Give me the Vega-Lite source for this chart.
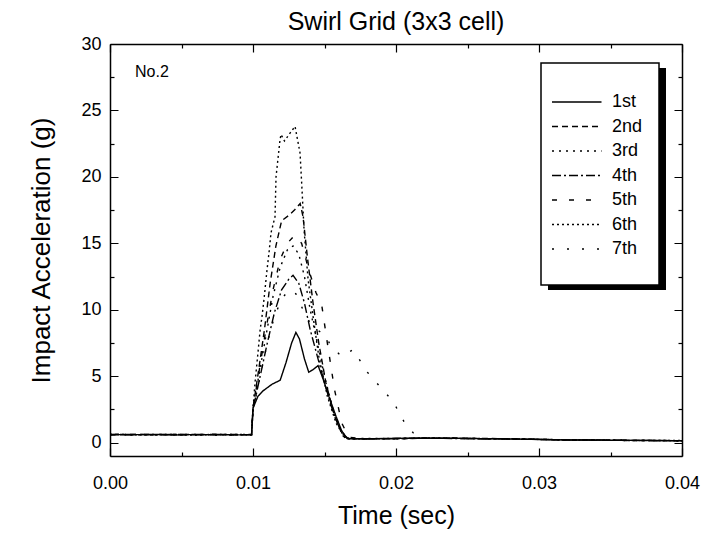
{
  "$schema": "https://vega.github.io/schema/vega-lite/v6.json",
  "width": 572,
  "height": 412,
  "autosize": "none",
  "padding": {"left": 110, "top": 44, "right": 21, "bottom": 81},
  "background": "white",
  "title": {"text": "Swirl Grid (3x3 cell)", "font": "Liberation Sans", "fontSize": 25, "fontWeight": "normal", "color": "black", "offset": 0},
  "config": {
    "view": {"stroke": null},
    "axis": {"labelFont": "Liberation Sans", "titleFont": "Liberation Sans", "labelColor": "black", "titleColor": "black", "domainColor": "black", "tickColor": "black", "domainWidth": 1.5, "tickWidth": 1.2, "grid": false, "titleFontWeight": "normal", "labelFlush": false}
  },
  "datasets": {
    "curves": [
      {"s":"1st","t":0,"a":0.62},{"s":"1st","t":0.0015,"a":0.6},{"s":"1st","t":0.003,"a":0.63},{"s":"1st","t":0.0045,"a":0.58},{"s":"1st","t":0.006,"a":0.62},{"s":"1st","t":0.0075,"a":0.6},{"s":"1st","t":0.009,"a":0.59},{"s":"1st","t":0.0099,"a":0.62},
      {"s":"1st","t":0.01,"a":2.6},{"s":"1st","t":0.01035,"a":3.5},{"s":"1st","t":0.0107,"a":3.9},{"s":"1st","t":0.01133,"a":4.4},{"s":"1st","t":0.0119,"a":4.7},{"s":"1st","t":0.0123,"a":6.0},{"s":"1st","t":0.0127,"a":7.5},{"s":"1st","t":0.013,"a":8.3},{"s":"1st","t":0.01325,"a":7.8},{"s":"1st","t":0.0136,"a":6.3},{"s":"1st","t":0.0139,"a":5.3},{"s":"1st","t":0.0142,"a":5.5},{"s":"1st","t":0.01455,"a":5.8},{"s":"1st","t":0.0149,"a":4.8},{"s":"1st","t":0.0153,"a":3.5},{"s":"1st","t":0.0158,"a":2.0},{"s":"1st","t":0.0162,"a":0.9},{"s":"1st","t":0.0166,"a":0.3},
      {"s":"1st","t":0.017,"a":0.3},{"s":"1st","t":0.018,"a":0.3},{"s":"1st","t":0.02,"a":0.32},{"s":"1st","t":0.022,"a":0.35},{"s":"1st","t":0.024,"a":0.33},{"s":"1st","t":0.026,"a":0.3},{"s":"1st","t":0.028,"a":0.28},{"s":"1st","t":0.03,"a":0.25},{"s":"1st","t":0.032,"a":0.2},{"s":"1st","t":0.034,"a":0.2},{"s":"1st","t":0.036,"a":0.18},{"s":"1st","t":0.038,"a":0.17},{"s":"1st","t":0.04,"a":0.15},

      {"s":"2nd","t":0,"a":0.6},{"s":"2nd","t":0.0015,"a":0.63},{"s":"2nd","t":0.003,"a":0.6},{"s":"2nd","t":0.0045,"a":0.62},{"s":"2nd","t":0.006,"a":0.59},{"s":"2nd","t":0.0075,"a":0.63},{"s":"2nd","t":0.009,"a":0.61},{"s":"2nd","t":0.0099,"a":0.6},
      {"s":"2nd","t":0.01,"a":2.6},{"s":"2nd","t":0.0104,"a":5.5},{"s":"2nd","t":0.0108,"a":8.5},{"s":"2nd","t":0.0112,"a":12},{"s":"2nd","t":0.0116,"a":14.8},{"s":"2nd","t":0.012,"a":16.7},{"s":"2nd","t":0.0125,"a":17.1},{"s":"2nd","t":0.0129,"a":17.5},{"s":"2nd","t":0.0133,"a":18.0},{"s":"2nd","t":0.0135,"a":17},{"s":"2nd","t":0.0138,"a":14},{"s":"2nd","t":0.0142,"a":10.5},{"s":"2nd","t":0.0146,"a":7.5},{"s":"2nd","t":0.0151,"a":4.5},{"s":"2nd","t":0.0157,"a":2},{"s":"2nd","t":0.0163,"a":0.5},{"s":"2nd","t":0.0167,"a":0.3},
      {"s":"2nd","t":0.018,"a":0.28},{"s":"2nd","t":0.02,"a":0.3},{"s":"2nd","t":0.022,"a":0.33},{"s":"2nd","t":0.024,"a":0.35},{"s":"2nd","t":0.026,"a":0.32},{"s":"2nd","t":0.028,"a":0.3},{"s":"2nd","t":0.03,"a":0.24},{"s":"2nd","t":0.032,"a":0.22},{"s":"2nd","t":0.034,"a":0.19},{"s":"2nd","t":0.036,"a":0.17},{"s":"2nd","t":0.038,"a":0.16},{"s":"2nd","t":0.04,"a":0.15},

      {"s":"3rd","t":0,"a":0.63},{"s":"3rd","t":0.0015,"a":0.59},{"s":"3rd","t":0.003,"a":0.62},{"s":"3rd","t":0.0045,"a":0.6},{"s":"3rd","t":0.006,"a":0.63},{"s":"3rd","t":0.0075,"a":0.58},{"s":"3rd","t":0.009,"a":0.62},{"s":"3rd","t":0.0099,"a":0.61},
      {"s":"3rd","t":0.01,"a":2.5},{"s":"3rd","t":0.0104,"a":5},{"s":"3rd","t":0.0109,"a":8},{"s":"3rd","t":0.0114,"a":11},{"s":"3rd","t":0.0119,"a":13.2},{"s":"3rd","t":0.0124,"a":14.5},{"s":"3rd","t":0.0128,"a":14.8},{"s":"3rd","t":0.0132,"a":14.2},{"s":"3rd","t":0.0136,"a":12.5},{"s":"3rd","t":0.014,"a":10},{"s":"3rd","t":0.0145,"a":7.5},{"s":"3rd","t":0.015,"a":5},{"s":"3rd","t":0.0156,"a":2.5},{"s":"3rd","t":0.0162,"a":0.8},{"s":"3rd","t":0.0167,"a":0.3},
      {"s":"3rd","t":0.018,"a":0.32},{"s":"3rd","t":0.02,"a":0.3},{"s":"3rd","t":0.022,"a":0.34},{"s":"3rd","t":0.024,"a":0.33},{"s":"3rd","t":0.026,"a":0.31},{"s":"3rd","t":0.028,"a":0.27},{"s":"3rd","t":0.03,"a":0.26},{"s":"3rd","t":0.032,"a":0.21},{"s":"3rd","t":0.034,"a":0.2},{"s":"3rd","t":0.036,"a":0.18},{"s":"3rd","t":0.038,"a":0.16},{"s":"3rd","t":0.04,"a":0.14},

      {"s":"4th","t":0,"a":0.61},{"s":"4th","t":0.0015,"a":0.62},{"s":"4th","t":0.003,"a":0.59},{"s":"4th","t":0.0045,"a":0.63},{"s":"4th","t":0.006,"a":0.6},{"s":"4th","t":0.0075,"a":0.62},{"s":"4th","t":0.009,"a":0.6},{"s":"4th","t":0.0099,"a":0.61},
      {"s":"4th","t":0.01,"a":2.5},{"s":"4th","t":0.0105,"a":5},{"s":"4th","t":0.011,"a":7.5},{"s":"4th","t":0.0115,"a":9.8},{"s":"4th","t":0.012,"a":11.5},{"s":"4th","t":0.0125,"a":12.3},{"s":"4th","t":0.0128,"a":12.6},{"s":"4th","t":0.0132,"a":12},{"s":"4th","t":0.0136,"a":10.5},{"s":"4th","t":0.014,"a":8.5},{"s":"4th","t":0.0145,"a":6.5},{"s":"4th","t":0.015,"a":4.5},{"s":"4th","t":0.0156,"a":2.3},{"s":"4th","t":0.0162,"a":0.7},{"s":"4th","t":0.0167,"a":0.3},
      {"s":"4th","t":0.018,"a":0.3},{"s":"4th","t":0.02,"a":0.33},{"s":"4th","t":0.022,"a":0.35},{"s":"4th","t":0.024,"a":0.32},{"s":"4th","t":0.026,"a":0.3},{"s":"4th","t":0.028,"a":0.29},{"s":"4th","t":0.03,"a":0.25},{"s":"4th","t":0.032,"a":0.2},{"s":"4th","t":0.034,"a":0.21},{"s":"4th","t":0.036,"a":0.18},{"s":"4th","t":0.038,"a":0.17},{"s":"4th","t":0.04,"a":0.15},

      {"s":"5th","t":0,"a":0.6},{"s":"5th","t":0.0015,"a":0.61},{"s":"5th","t":0.003,"a":0.63},{"s":"5th","t":0.0045,"a":0.59},{"s":"5th","t":0.006,"a":0.61},{"s":"5th","t":0.0075,"a":0.62},{"s":"5th","t":0.009,"a":0.6},{"s":"5th","t":0.0099,"a":0.6},
      {"s":"5th","t":0.01,"a":2.6},{"s":"5th","t":0.0104,"a":5.2},{"s":"5th","t":0.0109,"a":8.5},{"s":"5th","t":0.0114,"a":11.5},{"s":"5th","t":0.0119,"a":13.8},{"s":"5th","t":0.0124,"a":15},{"s":"5th","t":0.0129,"a":15.6},{"s":"5th","t":0.0134,"a":15},{"s":"5th","t":0.0139,"a":13},{"s":"5th","t":0.0144,"a":11.3},{"s":"5th","t":0.0148,"a":10.4},{"s":"5th","t":0.0152,"a":7.5},{"s":"5th","t":0.0157,"a":4},{"s":"5th","t":0.0162,"a":1.5},{"s":"5th","t":0.0167,"a":0.4},
      {"s":"5th","t":0.018,"a":0.3},{"s":"5th","t":0.02,"a":0.31},{"s":"5th","t":0.022,"a":0.34},{"s":"5th","t":0.024,"a":0.34},{"s":"5th","t":0.026,"a":0.3},{"s":"5th","t":0.028,"a":0.28},{"s":"5th","t":0.03,"a":0.24},{"s":"5th","t":0.032,"a":0.2},{"s":"5th","t":0.034,"a":0.19},{"s":"5th","t":0.036,"a":0.18},{"s":"5th","t":0.038,"a":0.16},{"s":"5th","t":0.04,"a":0.15},

      {"s":"6th","t":0,"a":0.62},{"s":"6th","t":0.0015,"a":0.6},{"s":"6th","t":0.003,"a":0.61},{"s":"6th","t":0.0045,"a":0.62},{"s":"6th","t":0.006,"a":0.58},{"s":"6th","t":0.0075,"a":0.61},{"s":"6th","t":0.009,"a":0.62},{"s":"6th","t":0.0099,"a":0.6},
      {"s":"6th","t":0.01,"a":2.5},{"s":"6th","t":0.01014,"a":4.5},{"s":"6th","t":0.01035,"a":6.8},{"s":"6th","t":0.0105,"a":8.5},{"s":"6th","t":0.01063,"a":9.5},{"s":"6th","t":0.01077,"a":10.8},{"s":"6th","t":0.01098,"a":13},{"s":"6th","t":0.01112,"a":14.3},{"s":"6th","t":0.01126,"a":15.8},{"s":"6th","t":0.01154,"a":17},{"s":"6th","t":0.01161,"a":20},{"s":"6th","t":0.01189,"a":22.8},{"s":"6th","t":0.01196,"a":23.2},{"s":"6th","t":0.0122,"a":22.7},{"s":"6th","t":0.01266,"a":23.4},{"s":"6th","t":0.01294,"a":23.8},{"s":"6th","t":0.01308,"a":23},{"s":"6th","t":0.01329,"a":21.8},{"s":"6th","t":0.01343,"a":19},{"s":"6th","t":0.01357,"a":16},{"s":"6th","t":0.01385,"a":12.3},{"s":"6th","t":0.0142,"a":9.5},{"s":"6th","t":0.0146,"a":6.5},{"s":"6th","t":0.0152,"a":3.5},{"s":"6th","t":0.0158,"a":1.5},{"s":"6th","t":0.0164,"a":0.4},{"s":"6th","t":0.0168,"a":0.3},
      {"s":"6th","t":0.018,"a":0.29},{"s":"6th","t":0.02,"a":0.3},{"s":"6th","t":0.022,"a":0.36},{"s":"6th","t":0.024,"a":0.33},{"s":"6th","t":0.026,"a":0.31},{"s":"6th","t":0.028,"a":0.28},{"s":"6th","t":0.03,"a":0.25},{"s":"6th","t":0.032,"a":0.21},{"s":"6th","t":0.034,"a":0.2},{"s":"6th","t":0.036,"a":0.17},{"s":"6th","t":0.038,"a":0.17},{"s":"6th","t":0.04,"a":0.16},

      {"s":"7th","t":0,"a":0.61},{"s":"7th","t":0.0015,"a":0.62},{"s":"7th","t":0.003,"a":0.6},{"s":"7th","t":0.0045,"a":0.61},{"s":"7th","t":0.006,"a":0.62},{"s":"7th","t":0.0075,"a":0.59},{"s":"7th","t":0.009,"a":0.61},{"s":"7th","t":0.0099,"a":0.6},
      {"s":"7th","t":0.01,"a":2.4},{"s":"7th","t":0.0105,"a":5},{"s":"7th","t":0.011,"a":7.5},{"s":"7th","t":0.0115,"a":9.5},{"s":"7th","t":0.012,"a":10.8},{"s":"7th","t":0.0125,"a":11.5},{"s":"7th","t":0.013,"a":11.2},{"s":"7th","t":0.0135,"a":10},{"s":"7th","t":0.014,"a":9},{"s":"7th","t":0.0145,"a":8.5},{"s":"7th","t":0.0152,"a":7.9},{"s":"7th","t":0.0154,"a":7.3},{"s":"7th","t":0.0162,"a":6.5},{"s":"7th","t":0.017,"a":7.0},{"s":"7th","t":0.018,"a":5.3},{"s":"7th","t":0.0198,"a":3.1},{"s":"7th","t":0.0206,"a":1.5},{"s":"7th","t":0.0212,"a":0.75},{"s":"7th","t":0.0218,"a":0.35},
      {"s":"7th","t":0.024,"a":0.33},{"s":"7th","t":0.026,"a":0.3},{"s":"7th","t":0.028,"a":0.28},{"s":"7th","t":0.03,"a":0.25},{"s":"7th","t":0.032,"a":0.21},{"s":"7th","t":0.034,"a":0.2},{"s":"7th","t":0.036,"a":0.18},{"s":"7th","t":0.038,"a":0.16},{"s":"7th","t":0.04,"a":0.15}
    ]
  },
  "layer": [
    {
      "data": {"values": [{}]},
      "mark": {"type": "rect", "fill": "black"},
      "encoding": {
        "x": {"datum": 0.030629, "type": "quantitative", "scale": {"domain": [0, 0.04], "nice": false, "zero": false}, "axis": null},
        "x2": {"datum": 0.038881},
        "y": {"datum": 28.19, "type": "quantitative", "scale": {"domain": [-1, 30], "nice": false, "zero": false}, "axis": null},
        "y2": {"datum": 11.49}
      }
    },
    {
      "data": {"values": [{}]},
      "mark": {"type": "rect", "fill": "white", "stroke": "black", "strokeWidth": 1.5},
      "encoding": {
        "x": {"datum": 0.03014, "type": "quantitative", "scale": {"domain": [0, 0.04], "nice": false, "zero": false},
          "axis": {"orient": "top", "title": null, "labels": false, "values": [0, 0.005, 0.01, 0.015, 0.02, 0.025, 0.03, 0.035, 0.04],
            "tickSize": -8,
            "tickDash": {"condition": {"test": "abs(datum.value*100 - round(datum.value*100)) < 0.001", "value": [1, 0]}, "value": [4, 30]}}},
        "x2": {"datum": 0.038392},
        "y": {"datum": 28.57, "type": "quantitative", "scale": {"domain": [-1, 30], "nice": false, "zero": false},
          "axis": {"orient": "right", "title": null, "labels": false, "values": [0, 2.5, 5, 7.5, 10, 12.5, 15, 17.5, 20, 22.5, 25, 27.5, 30],
            "tickSize": -8,
            "tickDash": {"condition": {"test": "datum.value % 5 == 0", "value": [1, 0]}, "value": [4, 30]}}},
        "y2": {"datum": 11.87}
      }
    },
    {
      "data": {"name": "curves"},
      "mark": {"type": "line", "color": "black", "strokeWidth": 1.4},
      "encoding": {
        "x": {"field": "t", "type": "quantitative", "scale": {"domain": [0, 0.04], "nice": false, "zero": false},
          "axis": {"orient": "bottom", "title": "Time (sec)", "titleFontSize": 25, "titlePadding": 11, "labelFontSize": 18, "labelPadding": 26,
            "values": [0, 0.005, 0.01, 0.015, 0.02, 0.025, 0.03, 0.035, 0.04],
            "labelExpr": "abs(datum.value*100 - round(datum.value*100)) < 0.001 ? format(datum.value, '.2f') : ''",
            "tickSize": -8,
            "tickDash": {"condition": {"test": "abs(datum.value*100 - round(datum.value*100)) < 0.001", "value": [1, 0]}, "value": [4, 30]}}},
        "y": {"field": "a", "type": "quantitative", "scale": {"domain": [-1, 30], "nice": false, "zero": false},
          "axis": {"orient": "left", "title": "Impact Acceleration (g)", "titleFontSize": 26, "titlePadding": 26, "labelFontSize": 18, "labelPadding": 17,
            "values": [0, 2.5, 5, 7.5, 10, 12.5, 15, 17.5, 20, 22.5, 25, 27.5, 30],
            "labelExpr": "datum.value % 5 == 0 ? datum.label : ''",
            "tickSize": -8,
            "tickDash": {"condition": {"test": "datum.value % 5 == 0", "value": [1, 0]}, "value": [4, 30]}}},
        "detail": {"field": "s"},
        "strokeDash": {"field": "s", "type": "nominal",
          "scale": {"domain": ["1st", "2nd", "3rd", "4th", "5th", "6th", "7th"],
            "range": [[1, 0], [6, 4], [2, 5], [9, 3, 2, 3], [5, 12], [2, 3], [2, 13]]},
          "legend": {"orient": "none", "legendX": 441, "legendY": 46, "title": null, "symbolType": "M-1,0H3.5", "symbolSize": 484,
            "symbolStrokeWidth": 1.5, "symbolStrokeColor": "black", "symbolFillColor": "transparent",
            "labelFont": "Liberation Sans", "labelFontSize": 18, "labelColor": "black", "labelOffset": 37, "rowPadding": 3.5, "padding": 0}}
      }
    },
    {
      "data": {"values": [{}]},
      "mark": {"type": "text", "text": "No.2", "font": "Liberation Sans", "fontSize": 16, "align": "left", "baseline": "middle", "color": "black"},
      "encoding": {
        "x": {"datum": 0.00175, "type": "quantitative", "scale": {"domain": [0, 0.04], "nice": false, "zero": false}, "axis": null},
        "y": {"datum": 27.9, "type": "quantitative", "scale": {"domain": [-1, 30], "nice": false, "zero": false}, "axis": null}
      }
    }
  ]
}
